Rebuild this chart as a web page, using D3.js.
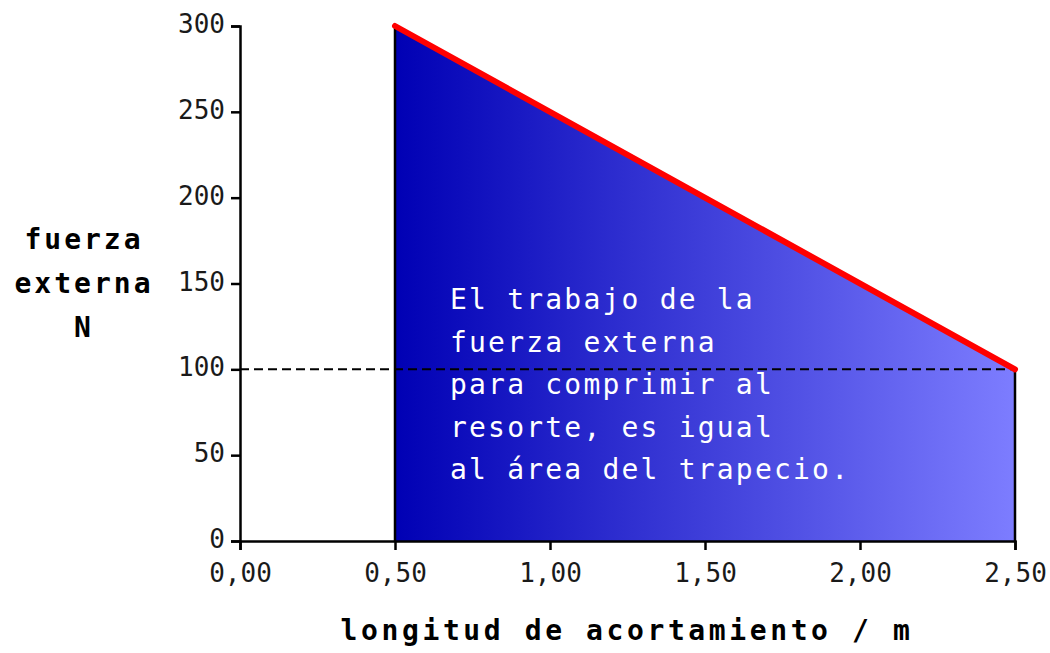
<!DOCTYPE html>
<html>
<head>
<meta charset="utf-8">
<script src="https://cdn.jsdelivr.net/npm/d3@7"></script>
<style>
  body { margin: 0; background: white; }
  text { font-family: "DejaVu Sans Mono", monospace; }
</style>
</head>
<body>
<div id="chart"></div>
<script>
// data
var forceLine = [ {x: 0.5, y: 300}, {x: 2.5, y: 100} ];
var refLevel = 100;
var xTicks = [0, 0.5, 1, 1.5, 2, 2.5];
var yTicks = [0, 50, 100, 150, 200, 250, 300];
var yLabelLines = ["fuerza", "externa", "N"];
var noteLines = ["El trabajo de la", "fuerza externa", "para comprimir al", "resorte, es igual", "al área del trapecio."];

var width = 1050, height = 653;
var margin = {left: 240, right: 35, top: 26, bottom: 112};

var svg = d3.select("#chart").append("svg")
  .attr("width", width).attr("height", height);

var x = d3.scaleLinear().domain([0, 2.5]).range([margin.left, width - margin.right]);
var y = d3.scaleLinear().domain([0, 300]).range([height - margin.bottom, margin.top]);

var defs = svg.append("defs");
var grad = defs.append("linearGradient").attr("id", "trap-grad")
  .attr("x1", "0%").attr("x2", "100%").attr("y1", "0%").attr("y2", "0%");
grad.append("stop").attr("offset", "0%").attr("stop-color", "#0000b4");
grad.append("stop").attr("offset", "100%").attr("stop-color", "#7d7dff");

// trapezoid area
var area = d3.area()
  .x(d => x(d.x))
  .y0(y(0))
  .y1(d => y(d.y));
svg.append("path").datum(forceLine)
  .attr("d", area)
  .attr("fill", "url(#trap-grad)");

// vertical edges
svg.selectAll("line.edge").data(forceLine).enter().append("line")
  .attr("class", "edge")
  .attr("x1", d => x(d.x)).attr("x2", d => x(d.x))
  .attr("y1", y(0)).attr("y2", d => y(d.y))
  .attr("stroke", "black").attr("stroke-width", 2.5);

// dashed reference line
svg.append("line")
  .attr("x1", x(0)).attr("x2", x(2.5))
  .attr("y1", y(refLevel)).attr("y2", y(refLevel))
  .attr("stroke", "black").attr("stroke-width", 2)
  .attr("stroke-dasharray", "9,5");

// force line
svg.append("path").datum(forceLine)
  .attr("d", d3.line().x(d => x(d.x)).y(d => y(d.y)))
  .attr("fill", "none").attr("stroke", "#ff0000").attr("stroke-width", 6)
  .attr("stroke-linecap", "round");

// axes
var xAxis = svg.append("g").attr("transform", "translate(0," + y(0) + ")")
  .call(d3.axisBottom(x).tickValues(xTicks).tickSizeOuter(0).tickSize(9).tickPadding(14)
    .tickFormat(d => d3.format(".2f")(d).replace(".", ",")));
var yAxis = svg.append("g").attr("transform", "translate(" + x(0) + ",0)")
  .call(d3.axisLeft(y).tickValues(yTicks).tickSizeOuter(0).tickSize(9).tickPadding(6));

[xAxis, yAxis].forEach(function (g) {
  g.select(".domain").attr("stroke-width", 2.5);
  g.selectAll(".tick line").attr("stroke-width", 2.5);
  g.selectAll(".tick text").attr("font-size", 26)
    .attr("font-family", "DejaVu Sans Mono, monospace").attr("fill", "#1a1a1a");
});
yAxis.selectAll(".tick text").attr("dy", "0.25em");

// y label
svg.append("text")
  .attr("text-anchor", "middle")
  .attr("font-size", 28).attr("font-weight", "bold").attr("letter-spacing", 3)
  .selectAll("tspan").data(yLabelLines).enter().append("tspan")
  .attr("x", 84).attr("y", (d, i) => 249 + i * 44)
  .text(d => d);

// x label
svg.append("text")
  .attr("x", 627).attr("y", 640)
  .attr("text-anchor", "middle")
  .attr("font-size", 28).attr("font-weight", "bold").attr("letter-spacing", 3.6)
  .text("longitud de acortamiento / m");

// annotation
svg.append("text")
  .attr("fill", "white").attr("font-size", 28).attr("letter-spacing", 2.2)
  .selectAll("tspan").data(noteLines).enter().append("tspan")
  .attr("x", 450).attr("y", (d, i) => 309 + i * 42.5)
  .text(d => d);
</script>
</body>
</html>
